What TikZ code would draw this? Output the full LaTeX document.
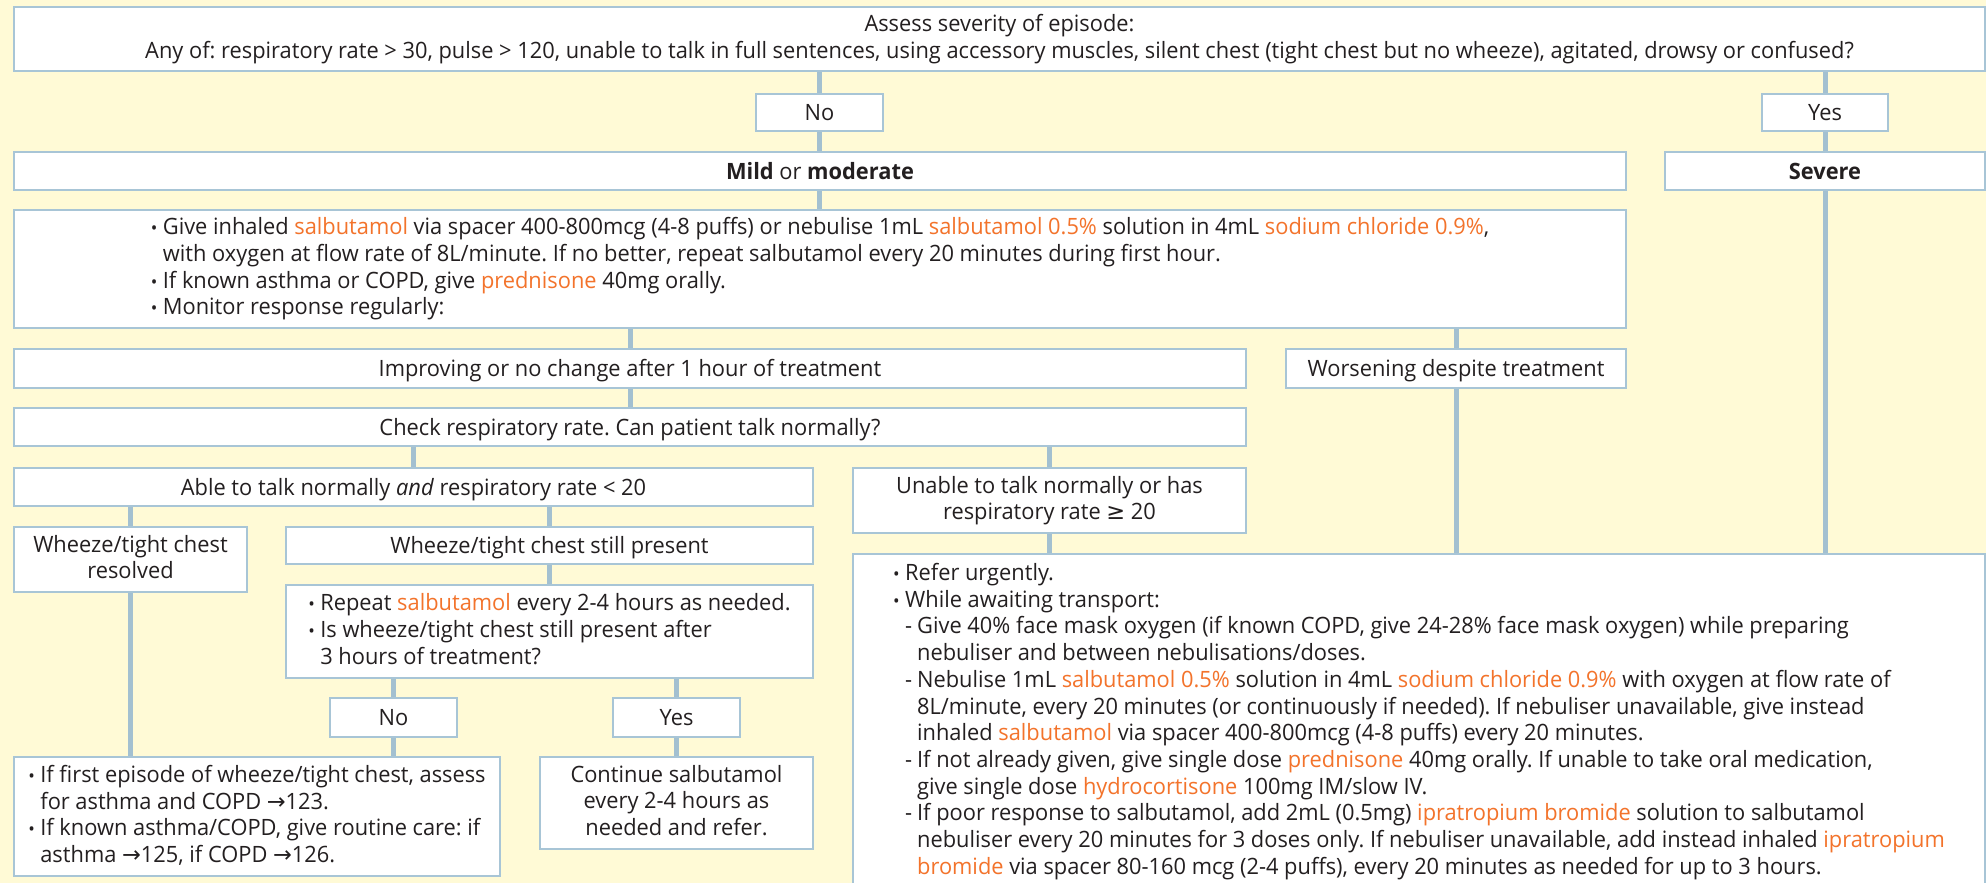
\documentclass[tikz,border=0pt]{standalone}
\usepackage{fontspec}
\usepackage{graphicx}
\setmainfont{Open Sans}[FakeStretch=0.97]
\newfontfamily\symf{DejaVu Sans}
\usetikzlibrary{backgrounds}
\frenchspacing
\definecolor{bgc}{RGB}{255,250,214}
\definecolor{bdc}{RGB}{168,197,214}
\definecolor{cnc}{RGB}{163,192,208}
\definecolor{drug}{RGB}{243,115,43}
\definecolor{txt}{RGB}{35,31,32}
\newcommand\dr[1]{\textcolor{drug}{#1}}
\newcommand\bul{\makebox[12pt][l]{\scalebox{0.8}{\textbullet}}}
\newcommand\hng{\hspace*{12pt}}
\newcommand\dsh{\makebox[12pt][l]{-}}
\newcommand\arr{{\symf →}}
\newcommand\mystrut{\rule[-5.3pt]{0pt}{26.7pt}}
\tikzset{
  box/.style={draw=bdc, line width=2pt, fill=white, inner sep=0pt, anchor=north west,
    text=txt, font=\fontsize{22.5}{26.7}\selectfont\frenchspacing,
    execute at begin node=\mystrut, execute at end node=\mystrut},
  cbox/.style={box, align=center},
  lbox/.style={box, align=left},
  conn/.style={draw=cnc, line width=5pt}
}
\begin{document}
\begin{tikzpicture}[x=1pt,y=-1pt]
\useasboundingbox (0,0) rectangle (1986,883);
\clip (0,0) rectangle (1986,883);
% boxes
\node[cbox, minimum width=1971pt, minimum height=64pt] (title) at (13,6)
  {Assess severity of episode:\\Any of: respiratory rate > 30, pulse > 120, unable to talk in full sentences, using accessory muscles, silent chest (tight chest but no wheeze), agitated, drowsy or confused?};
\node[cbox, minimum width=127pt, minimum height=37pt] (no) at (755,93) {No};
\node[cbox, minimum width=126pt, minimum height=37pt] (yes) at (1761,93) {Yes};
\node[cbox, minimum width=1612pt, minimum height=38pt] (mild) at (13,151) {\textbf{Mild} or \textbf{moderate}};
\node[cbox, minimum width=320pt, minimum height=38pt] (severe) at (1664,151) {\textbf{Severe}};
\node[lbox, minimum width=1612pt, minimum height=118pt] (treat) at (13,209)
  {\bul Give inhaled \dr{salbutamol} via spacer 400-800mcg (4-8 puffs) or nebulise 1mL \dr{salbutamol 0.5\%} solution in 4mL \dr{sodium chloride 0.9\%},\\
   \hng with oxygen at flow rate of 8L/minute. If no better, repeat salbutamol every 20 minutes during first hour.\\
   \bul If known asthma or COPD, give \dr{prednisone} 40mg orally.\\
   \bul Monitor response regularly:};
\node[cbox, minimum width=1232pt, minimum height=39pt] (improving) at (13,348) {Improving or no change after 1 hour of treatment};
\node[cbox, minimum width=340pt, minimum height=39pt] (worsening) at (1285,348) {Worsening despite treatment};
\node[cbox, minimum width=1232pt, minimum height=38pt] (check) at (13,407) {Check respiratory rate. Can patient talk normally?};
\node[cbox, minimum width=799pt, minimum height=38pt] (able) at (13,467) {Able to talk normally \textit{and} respiratory rate < 20};
\node[cbox, minimum width=393pt, minimum height=65pt] (unable) at (852,467) {Unable to talk normally or has\\respiratory rate {\symf ≥} 20};
\node[cbox, minimum width=233pt, minimum height=65pt] (resolved) at (13,526) {Wheeze/tight chest\\resolved};
\node[cbox, minimum width=527pt, minimum height=37pt] (still) at (285,526) {Wheeze/tight chest still present};
\node[lbox, minimum width=527pt, minimum height=93pt] (repeat) at (285,584)
  {\bul Repeat \dr{salbutamol} every 2-4 hours as needed.\\
   \bul Is wheeze/tight chest still present after\\
   \hng 3 hours of treatment?};
\node[cbox, minimum width=127pt, minimum height=39pt] (no2) at (329,697) {No};
\node[cbox, minimum width=127pt, minimum height=39pt] (yes2) at (612,697) {Yes};
\node[lbox, minimum width=486pt, minimum height=119pt] (iffirst) at (13,756)
  {\bul If first episode of wheeze/tight chest, assess\\
   \hng for asthma and COPD \arr123.\\
   \bul If known asthma/COPD, give routine care: if\\
   \hng asthma \arr125, if COPD \arr126.};
\node[cbox, minimum width=273pt, minimum height=92pt] (cont) at (539,756) {Continue salbutamol\\every 2-4 hours as\\needed and refer.};
\node[lbox, minimum width=1132pt, minimum height=335pt] (bottom) at (852,553)
  {\bul Refer urgently.\\
   \bul While awaiting transport:\\
   \hng\dsh Give 40\% face mask oxygen (if known COPD, give 24-28\% face mask oxygen) while preparing\\
   \hng\hng nebuliser and between nebulisations/doses.\\
   \hng\dsh Nebulise 1mL \dr{salbutamol 0.5\%} solution in 4mL \dr{sodium chloride 0.9\%} with oxygen at flow rate of\\
   \hng\hng 8L/minute, every 20 minutes (or continuously if needed). If nebuliser unavailable, give instead\\
   \hng\hng inhaled \dr{salbutamol} via spacer 400-800mcg (4-8 puffs) every 20 minutes.\\
   \hng\dsh If not already given, give single dose \dr{prednisone} 40mg orally. If unable to take oral medication,\\
   \hng\hng give single dose \dr{hydrocortisone} 100mg IM/slow IV.\\
   \hng\dsh If poor response to salbutamol, add 2mL (0.5mg) \dr{ipratropium bromide} solution to salbutamol\\
   \hng\hng nebuliser every 20 minutes for 3 doses only. If nebuliser unavailable, add instead inhaled \dr{ipratropium}\\
   \hng\hng \dr{bromide} via spacer 80-160 mcg (2-4 puffs), every 20 minutes as needed for up to 3 hours.};
% background and connectors
\begin{pgfonlayer}{background}
\fill[bgc] (0,0) rectangle (1986,883);
\draw[conn] (no.north |- title.south) -- (no.north);
\draw[conn] (no.south) -- (no.south |- mild.north);
\draw[conn] (yes.north |- title.south) -- (yes.north);
\draw[conn] (yes.south) -- (yes.south |- severe.north);
\draw[conn] (severe.south) -- (severe.south |- bottom.north);
\draw[conn] (no.south |- mild.south) -- (no.south |- treat.north);
\draw[conn] (improving.north |- treat.south) -- (improving.north);
\draw[conn] (worsening.north |- treat.south) -- (worsening.north);
\draw[conn] (worsening.south) -- (worsening.south |- bottom.north);
\draw[conn] (improving.south) -- (check.north);
\draw[conn] (able.north |- check.south) -- (able.north);
\draw[conn] (unable.north |- check.south) -- (unable.north);
\draw[conn] (unable.south) -- (unable.south |- bottom.north);
\draw[conn] (resolved.north |- able.south) -- (resolved.north);
\draw[conn] (still.north |- able.south) -- (still.north);
\draw[conn] (still.south) -- (repeat.north);
\draw[conn] (no2.north |- repeat.south) -- (no2.north);
\draw[conn] (yes2.north |- repeat.south) -- (yes2.north);
\draw[conn] (no2.south) -- (no2.south |- iffirst.north);
\draw[conn] (resolved.south) -- (resolved.south |- iffirst.north);
\draw[conn] (yes2.south) -- (yes2.south |- cont.north);
\end{pgfonlayer}
\end{tikzpicture}
\end{document}
